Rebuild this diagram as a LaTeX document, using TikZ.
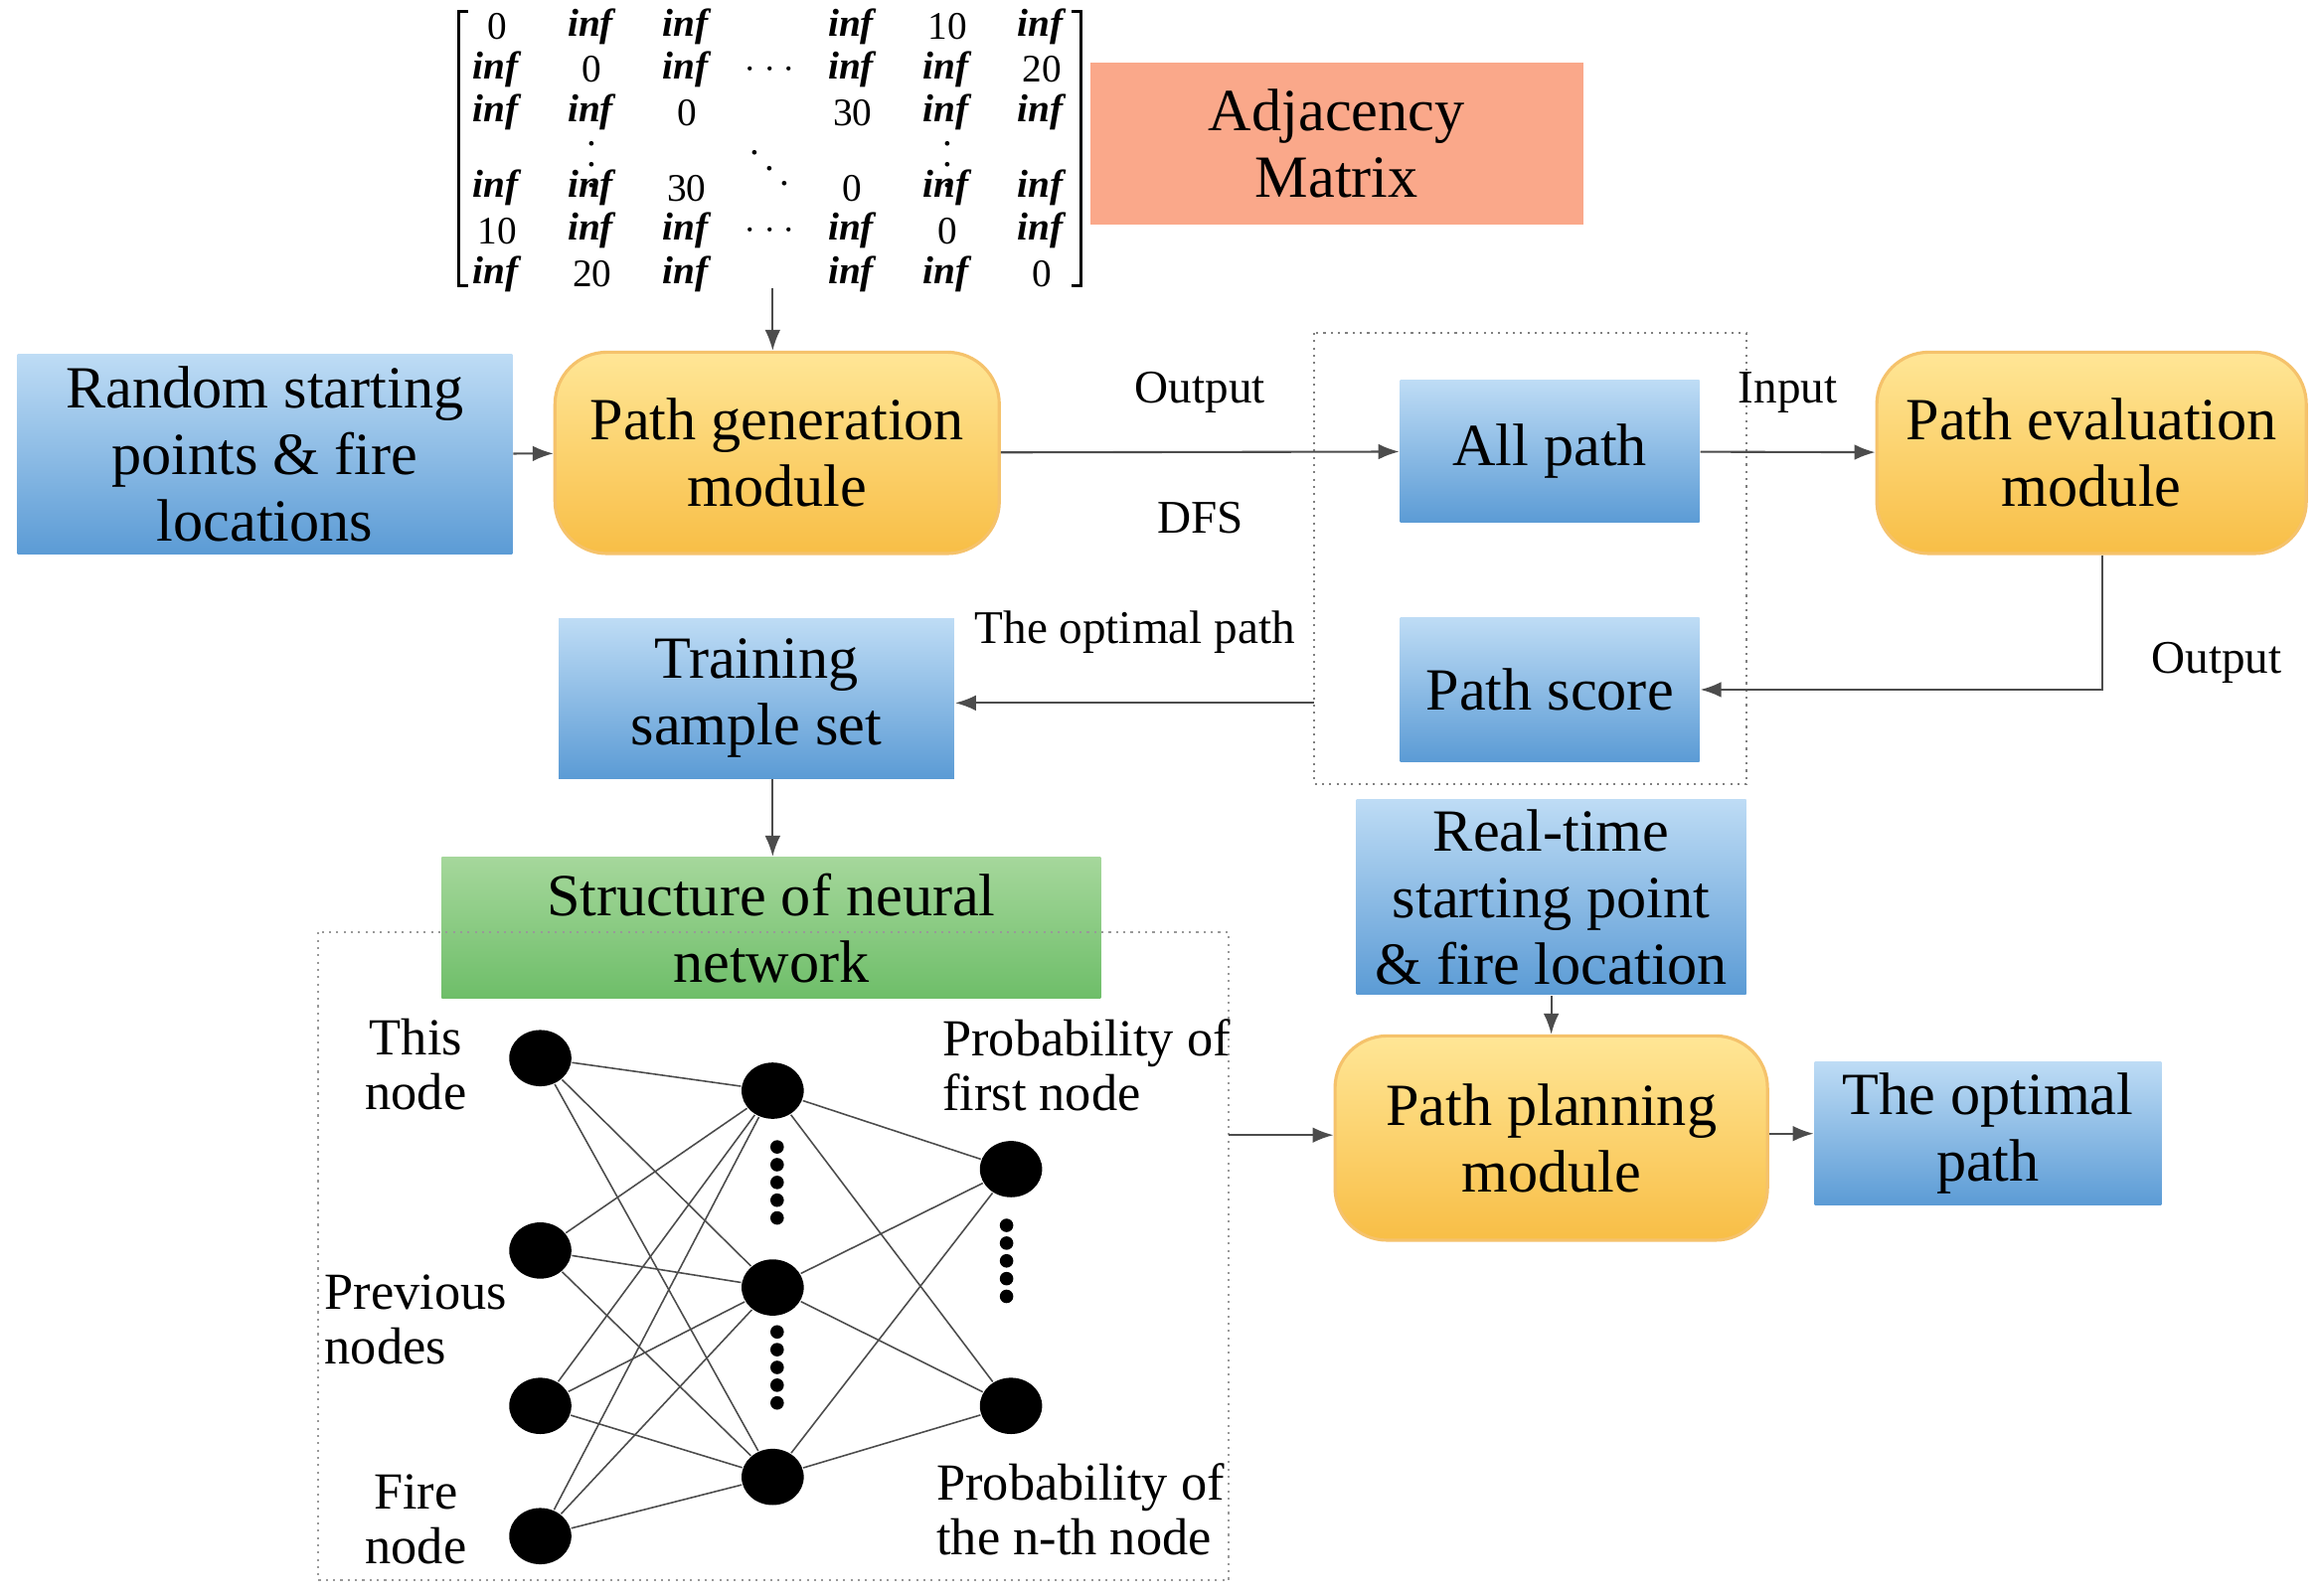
\documentclass[tikz,border=0pt]{standalone}
\usepackage{fontspec}
\setmainfont{Liberation Serif}
\usetikzlibrary{arrows.meta,shapes.geometric}
\begin{document}
\begin{tikzpicture}[x=0.01cm,y=-0.01cm,
 blue/.style={draw=none,top color={rgb,255:red,190;green,220;blue,245},bottom color={rgb,255:red,91;green,155;blue,213},align=center,font=\fontsize{11.5}{12.8}\selectfont,inner sep=0pt},
 orng/.style={draw={rgb,255:red,245;green,194;blue,107},line width=0.6pt,rounded corners=10pt,top color={rgb,255:red,255;green,230;blue,150},bottom color={rgb,255:red,248;green,190;blue,70},align=center,font=\fontsize{11.5}{12.8}\selectfont,inner sep=0pt},
 lbl/.style={font=\fontsize{9}{10.5}\selectfont,align=left},
 arr/.style={-{Latex[length=4pt,width=3pt]},line width=0.4pt,draw=black!70},
 neu/.style={ellipse,fill=black,minimum width=0.42cm,minimum height=0.38cm,inner sep=0pt,draw=none},
 ed/.style={line width=0.3pt,draw=black!70},
 nl/.style={font=\fontsize{10}{10.5}\selectfont},
 me/.style={font=\fontsize{7.5}{8}\selectfont}]
\useasboundingbox (0,0) rectangle (1568,1078);
% matrix
\def\inf{\textbf{\textit{inf}}}
\foreach \x/\y/\t in {336/18/0,400/18/\inf,464/18/\inf,576/18/\inf,640/18/10,704/18/\inf,
 336/47/\inf,400/47/0,464/47/\inf,520/47/$\cdots$,576/47/\inf,640/47/\inf,704/47/20,
 336/76/\inf,400/76/\inf,464/76/0,576/76/30,640/76/\inf,704/76/\inf,
 400/101/$\vdots$,520/103/$\ddots$,640/101/$\vdots$,
 336/127/\inf,400/127/\inf,464/127/30,576/127/0,640/127/\inf,704/127/\inf,
 336/156/10,400/156/\inf,464/156/\inf,520/156/$\cdots$,576/156/\inf,640/156/0,704/156/\inf,
 336/185/\inf,400/185/20,464/185/\inf,576/185/\inf,640/185/\inf,704/185/0}
 \node[me] at (\x,\y) {\t};
\coordinate (mat) at (522,195);
\draw[line width=0.6pt] (316,8) -- (310,8) -- (310,193) -- (316,193);
\draw[line width=0.6pt] (724,8) -- (730,8) -- (730,193) -- (724,193);
\node (adj) at (903,97) [fill={rgb,255:red,250;green,168;blue,138},minimum width=3.33cm,minimum height=1.09cm,align=center,font=\fontsize{11.5}{12.8}\selectfont,inner sep=0pt] {Adjacency\\Matrix};
% boxes
\node[blue,minimum width=3.34cm,minimum height=1.35cm] (rand) at (179,307) {Random starting\\points \& fire\\locations};
\node[orng,minimum width=3.0cm,minimum height=1.36cm] (pg) at (525,306) {Path generation\\module};
\draw[densely dotted,black!50] (888,225) rectangle (1180,530);
\coordinate (dl) at (888,475);
\node[blue,minimum width=2.02cm,minimum height=0.96cm] (all) at (1047,305) {All path};
\node[blue,minimum width=2.02cm,minimum height=0.97cm] (ps) at (1047,466) {Path score};
\node[orng,minimum width=2.9cm,minimum height=1.36cm] (pe) at (1413,306) {Path evaluation\\module};
\node[blue,minimum width=2.67cm,minimum height=1.08cm] (tr) at (511,472) {Training\\sample set};
\node[top color={rgb,255:red,165;green,215;blue,155},bottom color={rgb,255:red,110;green,190;blue,105},minimum width=4.45cm,minimum height=0.95cm,align=center,font=\fontsize{11.5}{12.8}\selectfont,inner sep=0pt] (st) at (521,627) {Structure of neural\\network};
\draw[densely dotted,black!40] (215,630) rectangle (830,1068);
\coordinate (nnr) at (830,767);
\node[blue,minimum width=2.63cm,minimum height=1.32cm] (rt) at (1048,606) {Real-time\\starting point\\\& fire location};
\node[orng,minimum width=2.92cm,minimum height=1.38cm] (pp) at (1048,769) {Path planning\\module};
\node[blue,minimum width=2.34cm,minimum height=0.97cm] (op) at (1343,766) {The optimal\\path};
% arrows
\draw[arr] (mat) -- (pg.north -| mat);
\draw[arr] (rand) -- (pg);
\draw[arr] (pg) -- node[lbl,above=4pt]{Output} node[lbl,below=6pt]{DFS} (all);
\draw[arr] (all) -- node[lbl,above=4pt]{Input} (pe);
\draw[arr] (pe.south -| 1420,0) |- node[lbl,pos=0.4,right=6pt]{Output} (ps.east);
\draw[arr] (dl) -- node[lbl,above=6pt]{The optimal path} (tr.east |- dl);
\draw[arr] (tr.south -| 522,0) -- (st.north -| 522,0);
\draw[arr] (rt) -- (pp);
\draw[arr] (nnr) -- (pp.west |- nnr);
\draw[arr] (pp.east |- op) -- (op);
% NN
\node[neu] (i1) at (365,715) {};
\node[neu] (i2) at (365,845) {};
\node[neu] (i3) at (365,950) {};
\node[neu] (i4) at (365,1038) {};
\node[neu] (h1) at (522,737) {};
\node[neu] (h2) at (522,870) {};
\node[neu] (h3) at (522,998) {};
\node[neu] (o1) at (683,790) {};
\node[neu] (o2) at (683,950) {};
\foreach \i in {i1,i2,i3,i4}\foreach \h in {h1,h2,h3}\draw[ed] (\i) -- (\h);
\foreach \h in {h1,h2,h3}\foreach \o in {o1,o2}\draw[ed] (\h) -- (\o);
\foreach \y in {775,787,...,823}\fill (525,\y) circle (1.3pt);
\foreach \y in {900,912,...,948}\fill (525,\y) circle (1.3pt);
\foreach \y in {828,840,...,876}\fill (680,\y) circle (1.3pt);
\node[nl,align=center] at (281,719) {This\\node};
\node[nl,align=left] at (281,892) {Previous\\nodes};
\node[nl,align=center] at (281,1027) {Fire\\node};
\node[nl,align=left] at (734,720) {Probability of\\first node};
\node[nl,align=left] at (730,1020) {Probability of\\the n-th node};
\end{tikzpicture}
\end{document}
